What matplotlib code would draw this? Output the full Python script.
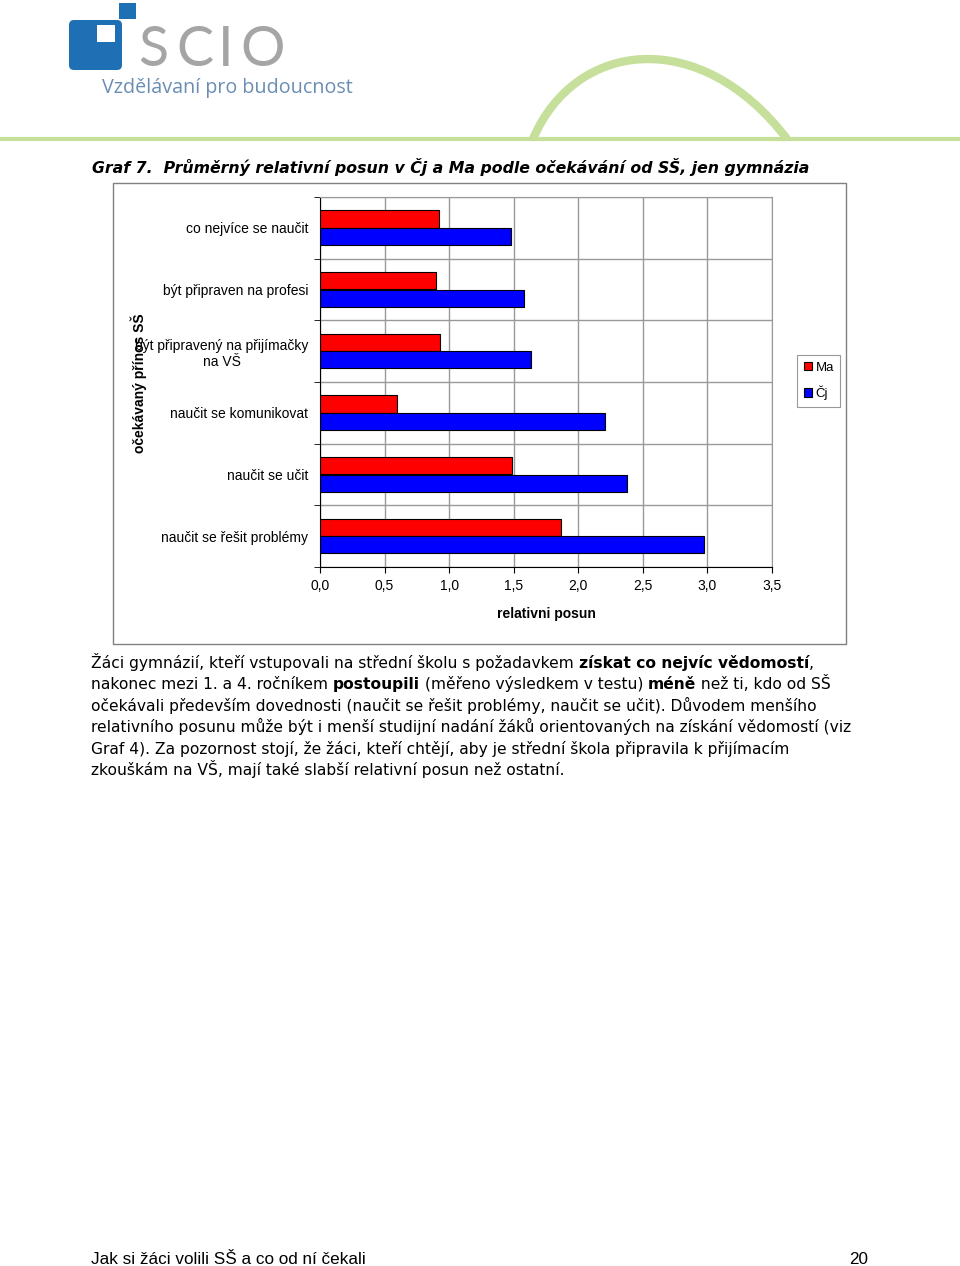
import matplotlib
matplotlib.use("Agg")
import numpy as np
import matplotlib.pyplot as plt
from matplotlib.patches import Rectangle, FancyBboxPatch, Patch, PathPatch
from matplotlib.path import Path

# data
kategorie = ["co nejvíce se naučit",
             "být připraven na profesi",
             "být připravený na přijímačky\nna VŠ",
             "naučit se komunikovat",
             "naučit se učit",
             "naučit se řešit problémy"]
ma = [0.92, 0.90, 0.93, 0.60, 1.49, 1.87]
cj = [1.48, 1.58, 1.63, 2.21, 2.38, 2.97]
x_ticks = [0.0, 0.5, 1.0, 1.5, 2.0, 2.5, 3.0, 3.5]
x_labels = ["0,0", "0,5", "1,0", "1,5", "2,0", "2,5", "3,0", "3,5"]

titulek = "Graf 7.  Průměrný relativní posun v Čj a Ma podle očekávání od SŠ, jen gymnázia"
odstavec = [
    [("Žáci gymnázií, kteří vstupovali na střední školu s požadavkem ", False),
     ("získat co nejvíc vědomostí", True), (",", False)],
    [("nakonec mezi 1. a 4. ročníkem ", False), ("postoupili", True),
     (" (měřeno výsledkem v testu) ", False), ("méně", True),
     (" než ti, kdo od SŠ", False)],
    [("očekávali především dovednosti (naučit se řešit problémy, naučit se učit). Důvodem menšího", False)],
    [("relativního posunu může být i menší studijní nadání žáků orientovaných na získání vědomostí (viz", False)],
    [("Graf 4). Za pozornost stojí, že žáci, kteří chtějí, aby je střední škola připravila k přijímacím", False)],
    [("zkouškám na VŠ, mají také slabší relativní posun než ostatní.", False)],
]

fig = plt.figure(figsize=(9.6, 12.66), dpi=100)

# pozadi v pixelech
bg = fig.add_axes([0, 0, 1, 1])
bg.set_xlim(0, 960)
bg.set_ylim(1266, 0)
bg.axis("off")

# logo
modra = "#1f6fb4"
bg.add_patch(FancyBboxPatch((69, 20), 53, 50, boxstyle="round,pad=0,rounding_size=5",
                            fc=modra, ec="none"))
bg.add_patch(Rectangle((97, 25), 18, 17, fc="white", ec="none"))
bg.add_patch(Rectangle((119, 3), 17, 16, fc=modra, ec="none"))
for pismeno, xc in zip("SCIO", [153, 195, 226, 263]):
    bg.text(xc, 50, pismeno, fontsize=40, color="#a5a5a5", family="Lato",
            va="center", ha="center")
bg.text(102, 88, "Vzdělávaní pro budoucnost", fontsize=14.2, color="#6b8db5",
        family="Open Sans", va="center", ha="left")

# zelena linka a oblouk
zelena = "#c6e09c"
bg.plot([0, 960], [139, 139], color=zelena, lw=3)
oblouk = Path([(533, 139), (575, 40), (700, 25), (787, 139)],
              [Path.MOVETO, Path.CURVE4, Path.CURVE4, Path.CURVE4])
bg.add_patch(PathPatch(oblouk, fc="none", ec=zelena, lw=6))

# nadpis
bg.text(92, 167, titulek, fontsize=11.3, fontweight="bold", style="italic",
        family="DejaVu Sans", va="center", ha="left")

# ramecek grafu
bg.add_patch(Rectangle((113, 183), 733, 461, fc="none", ec="#808080", lw=1))

# graf
ax = fig.add_axes([320 / 960, 1 - 567 / 1266, 452 / 960, 370 / 1266])
y = np.arange(len(kategorie))
ax.barh(y - 0.145, ma, height=0.28, color="#ff0000", edgecolor="black", lw=0.8, label="Ma")
ax.barh(y + 0.14, cj, height=0.28, color="#0000ff", edgecolor="black", lw=0.8, label="Čj")
ax.set_xlim(0, 3.5)
ax.set_ylim(len(kategorie) - 0.5, -0.5)
ax.set_yticks(y)
ax.set_yticklabels(kategorie, fontsize=10, family="Liberation Sans", multialignment="center")
ax.set_yticks(np.arange(len(kategorie) + 1) - 0.5, minor=True)
ax.tick_params(axis="y", which="major", length=0, pad=8.5)
ax.tick_params(axis="y", which="minor", length=4)
ax.set_xticks(x_ticks)
ax.set_xticklabels(x_labels, fontsize=10, family="Liberation Sans")
ax.tick_params(axis="x", length=4, pad=5)
ax.grid(axis="y", which="minor", color="#999999", lw=1)
ax.grid(axis="x", which="major", color="#999999", lw=1)
ax.set_axisbelow(True)
ax.set_xlabel("relativni posun", fontsize=10, fontweight="bold", family="Liberation Sans",
              labelpad=10)
for s in ["top", "right"]:
    ax.spines[s].set_color("#999999")
for s in ["left", "bottom"]:
    ax.spines[s].set_color("black")

bg.text(139, 383, "očekávaný přínos SŠ", rotation=90, fontsize=10, fontweight="bold",
        family="Liberation Sans", va="center", ha="center")

h = [Patch(fc="#ff0000", ec="black", lw=0.8), Patch(fc="#0000ff", ec="black", lw=0.8)]
leg = fig.legend(h, ["Ma", "Čj"], loc="upper left", bbox_to_anchor=(797 / 960, 1 - 355 / 1266),
                 prop={"family": "Liberation Sans", "size": 9.5}, fancybox=False,
                 handlelength=0.6, handleheight=0.6, handletextpad=0.3, labelspacing=0.9,
                 borderpad=0.5, borderaxespad=0, edgecolor="#999999", framealpha=1)
leg.get_frame().set_linewidth(0.8)

# text pod grafem
renderer = fig.canvas.get_renderer()
yb = 668
for radek in odstavec:
    x = 91
    for txt, tucne in radek:
        t = bg.text(x, yb, txt, fontsize=11.2, fontweight="bold" if tucne else "normal",
                    family="DejaVu Sans", va="baseline", ha="left")
        x += t.get_window_extent(renderer).width
    yb += 21.4

# paticka
bg.text(91, 1264, "Jak si žáci volili SŠ a co od ní čekali", fontsize=12.3,
        family="Liberation Sans", va="baseline", ha="left")
bg.text(868, 1264, "20", fontsize=12.3, family="Liberation Sans",
        va="baseline", ha="right")

fig.savefig("out.png", dpi=100)
